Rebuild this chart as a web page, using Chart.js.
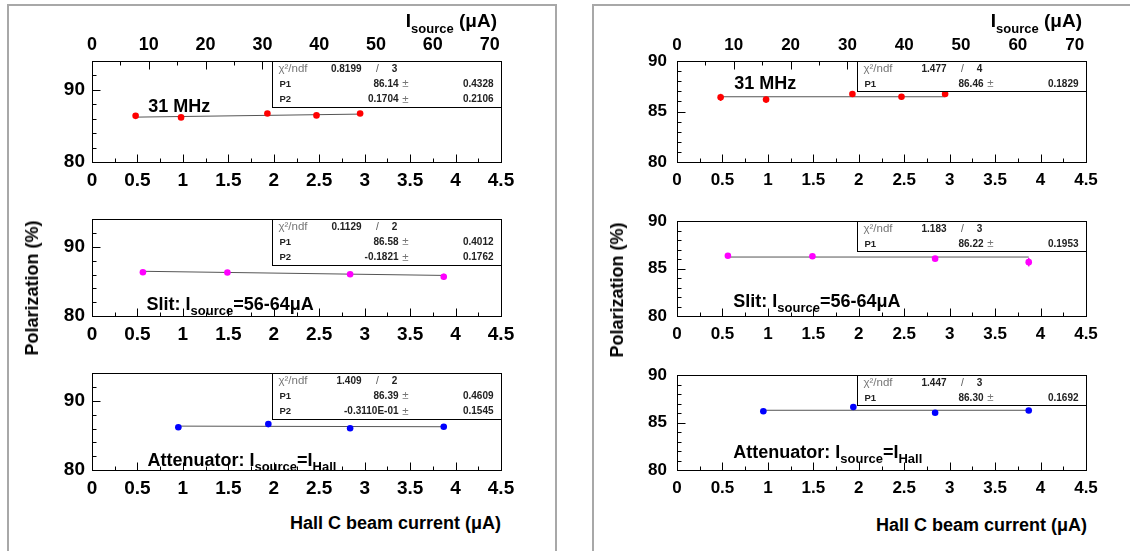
<!DOCTYPE html>
<html>
<head>
<meta charset="utf-8">
<script src="https://cdn.jsdelivr.net/npm/chart.js@4.4.1/dist/chart.umd.min.js"></script>
<style>
  body { margin: 0; width: 1130px; height: 551px; overflow: hidden; position: relative; background: #fff;
         font-family: 'Liberation Sans', Arial, Helvetica, sans-serif; }
  .frame { position: absolute; border: 2px solid #a8a8a8; border-bottom: none; }
  canvas { position: absolute; }
  .ytitle { position: absolute; font-weight: bold; font-size: 18px; white-space: nowrap; line-height: 18px;
            transform: translate(-50%, -50%) rotate(-90deg); }
  .xtitle { position: absolute; font-weight: bold; font-size: 18px; white-space: nowrap; line-height: 18px;
            transform: translate(-100%, -50%); }
  .toptitle { position: absolute; font-weight: bold; font-size: 19px; white-space: nowrap; line-height: 19px;
              transform: translateX(-100%); }
  .toptitle .sub { font-size: 13px; position: relative; top: 6px; }
</style>
</head>
<body>

<div class="frame" style="left:7px;top:4px;width:546px;height:560px"></div>
<div class="frame" style="left:592px;top:4px;width:560px;height:560px"></div>

<canvas id="L0" width="494" height="175"></canvas>
<canvas id="L1" width="494" height="149"></canvas>
<canvas id="L2" width="494" height="149"></canvas>
<canvas id="R0" width="494" height="175"></canvas>
<canvas id="R1" width="494" height="149"></canvas>
<canvas id="R2" width="494" height="149"></canvas>

<div class="toptitle" style="left:497px;top:11px">I<span class="sub">source</span> (μA)</div>
<div class="toptitle" style="left:1082px;top:11px">I<span class="sub">source</span> (μA)</div>
<div class="ytitle" style="left:32px;top:288px">Polarization (%)</div>
<div class="ytitle" style="left:617px;top:290px">Polarization (%)</div>
<div class="xtitle" style="left:501px;top:523px">Hall C beam current (μA)</div>
<div class="xtitle" style="left:1087px;top:525px">Hall C beam current (μA)</div>

<script>
const FONT = "'Liberation Sans', Arial, Helvetica, sans-serif";

// axis ticks
const xTicks     = [0, 0.5, 1, 1.5, 2, 2.5, 3, 3.5, 4, 4.5];
const topTicks   = [0, 10, 20, 30, 40, 50, 60, 70];
const yTicksLeft  = [80, 90];
const yTicksRight = [80, 85, 90];

// 31 MHz run (red)
const mhzX   = [0.48, 0.98, 1.93, 2.47, 2.95];
const mhzY   = [86.40, 86.18, 86.73, 86.46, 86.73];
const mhzErr = [0.35, 0.30, 0.28, 0.26, 0.30];

// slit run (magenta)
const slitX   = [0.56, 1.49, 2.84, 3.87];
const slitY   = [86.35, 86.30, 86.05, 85.68];
const slitErr = [0.20, 0.20, 0.20, 0.45];

// attenuator run (blue)
const attX   = [0.95, 1.94, 2.84, 3.87];
const attY   = [86.20, 86.65, 86.04, 86.27];
const attErr = [0.15, 0.15, 0.15, 0.15];

// fitted lines, end points
const fitLeftX  = [[0.48, 2.95], [0.56, 3.87], [0.95, 3.87]];
const fitLeftY  = [[86.22, 86.64], [86.48, 85.88], [86.36, 86.27]];
const fitRightX = [[0.48, 2.95], [0.56, 3.87], [0.95, 3.87]];
const fitRightY = [[86.46, 86.46], [86.22, 86.22], [86.30, 86.30]];

// fit boxes
const chi2Left  = [['0.8199', '3'], ['0.1129', '2'], ['1.409', '2']];
const parsLeft  = [
  [['P1', '86.14', '0.4328'], ['P2', '0.1704', '0.2106']],
  [['P1', '86.58', '0.4012'], ['P2', '-0.1821', '0.1762']],
  [['P1', '86.39', '0.4609'], ['P2', '-0.3110E-01', '0.1545']],
];
const chi2Right = [['1.477', '4'], ['1.183', '3'], ['1.447', '3']];
const parsRight = [
  [['P1', '86.46', '0.1829']],
  [['P1', '86.22', '0.1953']],
  [['P1', '86.30', '0.1692']],
];

// text labels inside the plots
const labelParts = [
  [['31 MHz', 0]],
  [['Slit: I', 0], ['source', 1], ['=56-64μA', 0]],
  [['Attenuator: I', 0], ['source', 1], ['=I', 0], ['Hall', 1]],
];
const labelLeftX  = [0.62, 0.60, 0.61];
const labelLeftY  = [87.85, 81.75, 81.5];
const labelRightX = [0.63, 0.62, 0.62];
const labelRightY = [87.85, 81.65, 81.9];

const runs = [
  { x: mhzX,  y: mhzY,  err: mhzErr,  color: '#ff0000' },
  { x: slitX, y: slitY, err: slitErr, color: '#ff00ff' },
  { x: attX,  y: attY,  err: attErr,  color: '#0000ff' },
];

const rowTops = [61, 215, 369];

const panels = [
  { key: 'L', plotL: 92,  yMax: 94, yTicks: yTicksLeft,  yMinor: 2, tickSize: 19, topSize: 18, yPad: 7,
    fitX: fitLeftX, fitY: fitLeftY, chi2: chi2Left, pars: parsLeft, lx: labelLeftX, ly: labelLeftY },
  { key: 'R', plotL: 677, yMax: 90, yTicks: yTicksRight, yMinor: 1, tickSize: 17, topSize: 17, yPad: 10,
    fitX: fitRightX, fitY: fitRightY, chi2: chi2Right, pars: parsRight, lx: labelRightX, ly: labelRightY },
];

const rootDecor = {
  id: 'rootDecor',
  afterDatasetsDraw(chart, args, o) {
    const ctx = chart.ctx, a = chart.chartArea;
    const xs = chart.scales.x, ys = chart.scales.y;

    // error bars
    chart.data.datasets.forEach(ds => {
      if (!ds.errors) return;
      ctx.save();
      ctx.strokeStyle = ds.borderColor;
      ctx.lineWidth = 1.5;
      ds.data.forEach((p, j) => {
        const px = xs.getPixelForValue(p.x);
        ctx.beginPath();
        ctx.moveTo(px, ys.getPixelForValue(p.y - ds.errors[j]));
        ctx.lineTo(px, ys.getPixelForValue(p.y + ds.errors[j]));
        ctx.stroke();
      });
      ctx.restore();
    });

    ctx.save();
    ctx.strokeStyle = '#000';
    ctx.lineWidth = 1;

    // frame
    const L = Math.round(a.left) + 0.5, T = Math.round(a.top) + 0.5;
    const R = Math.round(a.right) + 0.5, B = Math.round(a.bottom) + 0.5;
    ctx.strokeRect(L, T, R - L, B - T);

    // inward ticks
    ctx.beginPath();
    for (let i = 0; i <= 18; i++) {
      const px = Math.round(xs.getPixelForValue(i * 0.25)) + 0.5;
      const len = i % 2 === 0 ? 8 : 4;
      ctx.moveTo(px, B); ctx.lineTo(px, B - len);
    }
    for (let v = 80; v <= o.yMax; v += o.yMinor) {
      const py = Math.round(ys.getPixelForValue(v)) + 0.5;
      const len = o.yTicks.includes(v) ? 8 : 4;
      ctx.moveTo(L, py); ctx.lineTo(L + len, py);
    }
    if (chart.scales.x2) {
      const x2 = chart.scales.x2;
      for (let v = 0; v <= 70; v += 5) {
        const px = Math.round(x2.getPixelForValue(v)) + 0.5;
        const len = v % 10 === 0 ? 8 : 4;
        ctx.moveTo(px, T); ctx.lineTo(px, T + len);
      }
    }
    ctx.stroke();

    // label in data coordinates
    let tx = xs.getPixelForValue(o.label.x);
    const base = ys.getPixelForValue(o.label.y) + 6.5;
    ctx.fillStyle = '#000';
    ctx.textAlign = 'left';
    ctx.textBaseline = 'alphabetic';
    o.label.parts.forEach(([t, sub]) => {
      ctx.font = sub ? 'bold 13px ' + FONT : 'bold 18px ' + FONT;
      ctx.fillText(t, tx, sub ? base + 5 : base);
      tx += ctx.measureText(t).width;
    });

    // fit statistics box
    const st = o.stats;
    const rowH = 15.2;
    const bx = Math.round(a.left + a.width * 0.44) + 0.5;
    const bh = Math.round(rowH * (1 + st.pars.length));
    ctx.fillStyle = '#fff';
    ctx.fillRect(bx, T, R - bx, bh);
    ctx.strokeRect(bx, T, R - bx, bh);
    ctx.textBaseline = 'middle';
    let cy = T + rowH / 2;
    ctx.font = '11.5px ' + FONT; ctx.fillStyle = '#777'; ctx.textAlign = 'left';
    ctx.fillText('χ²/ndf', bx + 6, cy);
    ctx.font = 'bold 10px ' + FONT; ctx.fillStyle = '#222'; ctx.textAlign = 'right';
    ctx.fillText(st.chi2[0], bx + 89, cy);
    ctx.font = '10px ' + FONT; ctx.fillStyle = '#555'; ctx.textAlign = 'center';
    ctx.fillText('/', bx + 105, cy);
    ctx.font = 'bold 10px ' + FONT; ctx.fillStyle = '#222';
    ctx.fillText(st.chi2[1], bx + 122, cy);
    st.pars.forEach((p, i) => {
      cy = T + rowH * (i + 1.5);
      ctx.font = 'bold 9.5px ' + FONT; ctx.fillStyle = '#222'; ctx.textAlign = 'left';
      ctx.fillText(p[0], bx + 7, cy);
      ctx.font = 'bold 10px ' + FONT; ctx.textAlign = 'right';
      ctx.fillText(p[1], bx + 126, cy);
      ctx.font = '11.5px ' + FONT; ctx.fillStyle = '#777'; ctx.textAlign = 'center';
      ctx.fillText('±', bx + 133, cy);
      ctx.font = 'bold 10px ' + FONT; ctx.fillStyle = '#222'; ctx.textAlign = 'right';
      ctx.fillText(p[2], R - 8, cy);
    });
    ctx.restore();
  },
};

function makeSub(panel, row) {
  const run = panels[panel];
  const d = runs[row];
  const topH = row === 0 ? 40 : 14;
  const cv = document.getElementById(run.key + row);
  cv.style.left = (run.plotL - 60) + 'px';
  cv.style.top = (rowTops[row] - topH) + 'px';

  const tickFont = { family: FONT, size: run.tickSize, weight: 'bold' };
  const scales = {
    x: {
      type: 'linear', position: 'bottom', min: 0, max: 4.5,
      grid: { display: false, drawTicks: false }, border: { display: false },
      afterBuildTicks: s => { s.ticks = xTicks.map(v => ({ value: v })); },
      afterFit: s => { s.height = 34; },
      ticks: { font: tickFont, color: '#000', padding: run.key === 'L' ? 7 : 8, maxRotation: 0, autoSkip: false,
               callback: v => String(v) },
    },
    y: {
      type: 'linear', position: 'left', min: 80, max: run.yMax,
      grid: { display: false, drawTicks: false }, border: { display: false },
      afterBuildTicks: s => { s.ticks = run.yTicks.map(v => ({ value: v })); },
      afterFit: s => { s.width = 60; },
      ticks: { font: tickFont, color: '#000', padding: run.yPad, callback: v => String(v) },
    },
  };
  if (row === 0) {
    scales.x2 = {
      type: 'linear', position: 'top', min: 0, max: 72,
      grid: { display: false, drawTicks: false }, border: { display: false },
      afterBuildTicks: s => { s.ticks = topTicks.map(v => ({ value: v })); },
      afterFit: s => { s.height = topH; },
      ticks: { font: { family: FONT, size: run.topSize, weight: 'bold' }, color: '#000', padding: 5,
               maxRotation: 0, autoSkip: false, callback: v => String(v) },
    };
  }

  new Chart(cv, {
    data: {
      datasets: [
        {
          type: 'scatter',
          data: d.x.map((x, i) => ({ x, y: d.y[i] })),
          errors: d.err,
          backgroundColor: d.color,
          borderColor: d.color,
          pointRadius: 3.3,
          pointBorderWidth: 0,
        },
        {
          type: 'line',
          data: run.fitX[row].map((x, i) => ({ x, y: run.fitY[row][i] })),
          borderColor: '#555',
          borderWidth: 1,
          pointRadius: 0,
          fill: false,
          tension: 0,
        },
      ],
    },
    options: {
      responsive: false,
      animation: false,
      devicePixelRatio: 1,
      layout: { padding: { left: 0, right: 25, top: row === 0 ? 0 : topH, bottom: 0 } },
      plugins: {
        legend: { display: false },
        tooltip: { enabled: false },
        rootDecor: {
          yMax: run.yMax, yTicks: run.yTicks, yMinor: run.yMinor,
          label: { x: run.lx[row], y: run.ly[row], parts: labelParts[row] },
          stats: { chi2: run.chi2[row], pars: run.pars[row] },
        },
      },
      scales,
    },
    plugins: [rootDecor],
  });
}

[0, 1].forEach(p => [0, 1, 2].forEach(r => makeSub(p, r)));
</script>
</body>
</html>
